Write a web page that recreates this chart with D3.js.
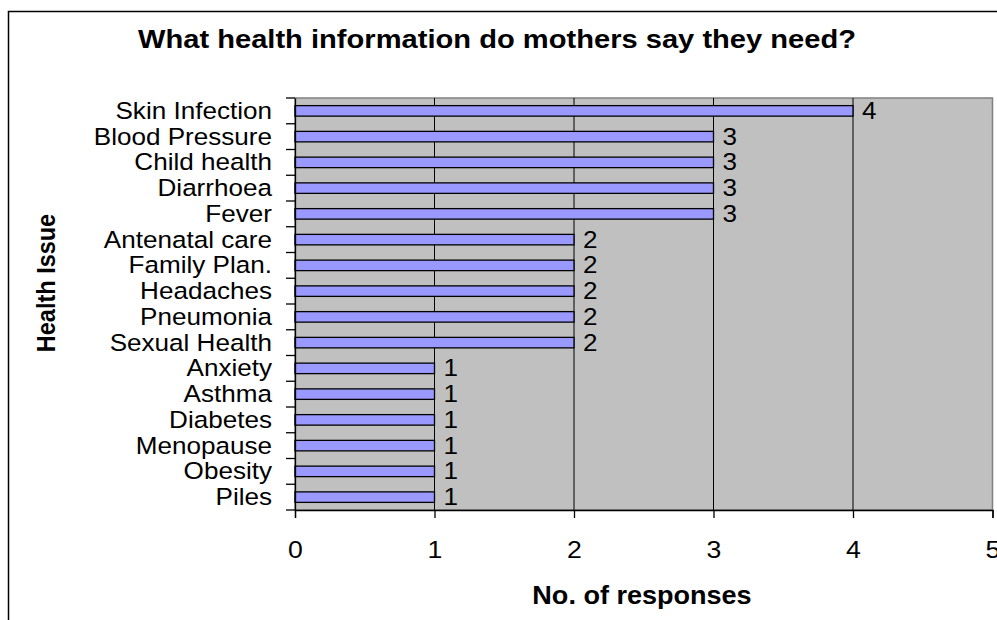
<!DOCTYPE html>
<html>
<head>
<meta charset="utf-8">
<script src="https://cdn.jsdelivr.net/npm/d3@7"></script>
<style>
  html, body { margin: 0; padding: 0; background: #fff; }
  svg { display: block; font-family: "Liberation Sans", Arial, sans-serif; }
</style>
</head>
<body>
<svg id="chart" width="997" height="620"></svg>
<script>
// Health topics, top to bottom, and the number of responses for each
const categories = [
  "Skin Infection", "Blood Pressure", "Child health", "Diarrhoea", "Fever ",
  "Antenatal care", "Family Plan.", "Headaches", "Pneumonia", "Sexual Health",
  "Anxiety", "Asthma", "Diabetes", "Menopause", "Obesity", "Piles"
];
const responses = [4, 3, 3, 3, 3, 2, 2, 2, 2, 2, 1, 1, 1, 1, 1, 1];
const xTicks = [0, 1, 2, 3, 4, 5];

const titleText = "What health information do mothers say they need?";
const xTitle = "No. of responses";
const yTitle = "Health Issue";

const FONT = "'Liberation Sans', Arial, sans-serif";
const SX = 1.11; // the chart's text is drawn slightly wide

const svg = d3.select("#chart");

// outer chart frame (runs off the right and bottom edges)
svg.append("rect")
  .attr("x", 8.5).attr("y", 11.5)
  .attr("width", 1000).attr("height", 700)
  .attr("fill", "#fff").attr("stroke", "#000").attr("stroke-width", 1.5);

const plot = { left: 295, right: 992.5, top: 98, bottom: 510 };

const x = d3.scaleLinear().domain([0, 5]).range([plot.left, plot.right]);
const yBand = d3.scaleBand().domain(categories).range([plot.top, plot.bottom]);
const barH = 10.5;

// plot area background
svg.append("rect")
  .attr("x", plot.left).attr("y", plot.top)
  .attr("width", plot.right - plot.left).attr("height", plot.bottom - plot.top)
  .attr("fill", "#c0c0c0").attr("stroke", "#808080").attr("stroke-width", 1.5);

// vertical gridlines
svg.append("g").selectAll("line")
  .data(xTicks.filter(t => t > 0 && t < 5))
  .join("line")
  .attr("x1", d => x(d)).attr("x2", d => x(d))
  .attr("y1", plot.top).attr("y2", plot.bottom)
  .attr("stroke", "#000").attr("stroke-width", 1);

// bars
svg.append("g").selectAll("rect")
  .data(categories)
  .join("rect")
  .attr("x", x(0))
  .attr("y", d => yBand(d) + (yBand.bandwidth() - barH) / 2)
  .attr("width", (d, i) => x(responses[i]) - x(0))
  .attr("height", barH)
  .attr("fill", "#9999ff").attr("stroke", "#000").attr("stroke-width", 1.3);

// value labels
svg.append("g").selectAll("text")
  .data(categories)
  .join("text")
  .attr("transform", (d, i) =>
    `translate(${x(responses[i]) + 9},${yBand(d) + yBand.bandwidth() / 2 + 8}) scale(${SX},1)`)
  .attr("font-size", 23.5)
  .attr("font-family", FONT)
  .attr("fill", "#000")
  .text((d, i) => responses[i]);

// y axis
const yAxis = d3.axisLeft(yBand).tickSize(0);
const gy = svg.append("g").attr("transform", `translate(${plot.left},0)`).call(yAxis);
gy.select(".domain").attr("stroke", "#000").attr("stroke-width", 1.3);
gy.selectAll(".tick text")
  .attr("x", 0).attr("dy", null)
  .attr("transform", `translate(-23,8) scale(${SX},1)`)
  .attr("font-size", 23.5).attr("fill", "#000").attr("font-family", FONT);
// tick marks between categories
const bounds = categories.map(c => yBand(c)).concat([plot.bottom]);
gy.append("g").selectAll("line")
  .data(bounds)
  .join("line")
  .attr("x1", -9).attr("x2", 0)
  .attr("y1", d => d).attr("y2", d => d)
  .attr("stroke", "#000").attr("stroke-width", 1.3);

// x axis
const xAxis = d3.axisBottom(x).tickValues(xTicks).tickSize(8).tickFormat(d3.format("d"));
const gx = svg.append("g").attr("transform", `translate(0,${plot.bottom})`).call(xAxis);
gx.select(".domain").attr("stroke", "#000").attr("stroke-width", 1.3);
gx.selectAll(".tick line").attr("stroke", "#000").attr("stroke-width", 1.3);
gx.selectAll(".tick text")
  .attr("y", 0).attr("dy", null)
  .attr("transform", `translate(0,48) scale(${SX},1)`)
  .attr("font-size", 24).attr("fill", "#000").attr("font-family", FONT);

// titles
svg.append("text")
  .attr("transform", "translate(497,48) scale(1.12,1)")
  .attr("text-anchor", "middle")
  .attr("font-size", 26).attr("font-weight", "bold").attr("font-family", FONT)
  .text(titleText);

svg.append("text")
  .attr("transform", "translate(642,604) scale(1.04,1)")
  .attr("text-anchor", "middle")
  .attr("font-size", 26).attr("font-weight", "bold").attr("font-family", FONT)
  .text(xTitle);

svg.append("text")
  .attr("transform", "translate(55,283) scale(1.12,1) rotate(-90)")
  .attr("text-anchor", "middle")
  .attr("font-size", 23.5).attr("font-weight", "bold").attr("font-family", FONT)
  .text(yTitle);
</script>
</body>
</html>
